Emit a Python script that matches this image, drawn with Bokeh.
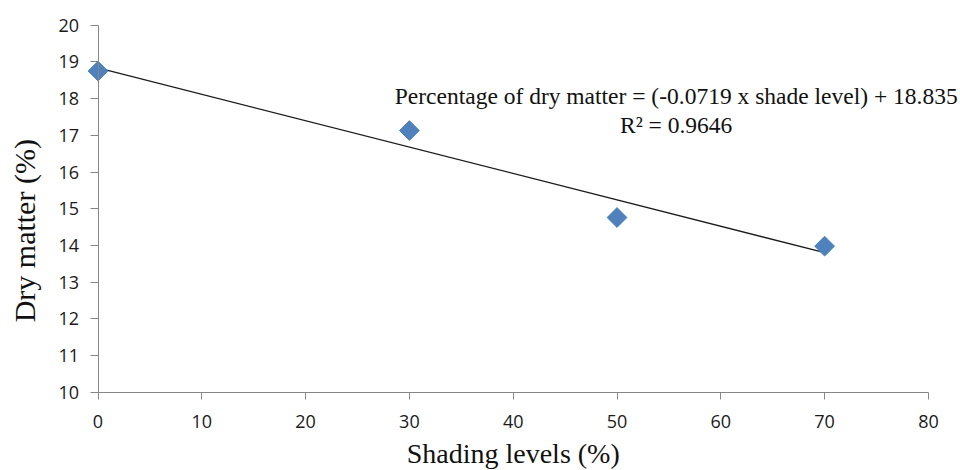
import math
from bokeh.plotting import figure
from bokeh.models import Range1d, Label, FixedTicker
from bokeh.embed import file_html
from bokeh.resources import INLINE

# Shading level (%) and measured dry matter (%)
shading = [0, 30, 50, 70]
dry_matter = [18.75, 17.13, 14.76, 13.98]

# Linear trend reported for the series
slope = -0.0719
intercept = 18.835
r_squared = 0.9646

x_ticks = [0, 10, 20, 30, 40, 50, 60, 70, 80]
y_ticks = [10, 11, 12, 13, 14, 15, 16, 17, 18, 19, 20]

# The frame fills the whole canvas; the axes sit at x=0 / y=10 inside it,
# so markers, titles and the equation are never cut by the frame edge.
p = figure(width=960, height=470, output_backend="svg", toolbar_location=None,
           x_range=Range1d(-9.393, 83.09), y_range=Range1d(7.867, 20.673),
           min_border=0)
p.outline_line_color = None
p.background_fill_color = "white"
p.border_fill_color = "white"
p.grid.visible = False

axis_gray = "#868686"
for ax in (p.xaxis[0], p.yaxis[0]):
    ax.axis_line_color = axis_gray
    ax.major_tick_line_color = axis_gray
    ax.minor_tick_line_color = None
    ax.major_tick_in = 0
    ax.major_label_text_font = "Open Sans"
    ax.major_label_text_font_size = "18px"
    ax.major_label_text_color = "#1a1a1a"

p.xaxis.ticker = FixedTicker(ticks=x_ticks)
p.yaxis.ticker = FixedTicker(ticks=y_ticks)
p.xaxis.bounds = (0, 80)
p.yaxis.bounds = (10, 20)
p.xaxis.fixed_location = 10
p.yaxis.fixed_location = 0
p.xaxis.major_tick_out = 7
p.yaxis.major_tick_out = 8
p.xaxis.major_label_standoff = 16
p.yaxis.major_label_standoff = 11

# Fitted line across the measured range
x_fit = [min(shading), max(shading)]
y_fit = [slope * x + intercept for x in x_fit]
p.line(x_fit, y_fit, line_color="#1a1a1a", line_width=1.3)

# Measured points as diamonds
p.scatter(shading, dry_matter, marker="square", angle=math.pi / 4, size=14,
          fill_color="#4F81BD", line_color="#4F81BD")

# Equation and R² of the fit
eq_text = f"Percentage of dry matter = ({slope} x shade level) + {intercept}"
r2_text = f"R\u00b2 = {r_squared}"
for txt, yy in ((eq_text, 18.06), (r2_text, 17.29)):
    p.add_layout(Label(x=55.7, y=yy, text=txt, text_align="center",
                       text_baseline="middle", text_font="Liberation Serif",
                       text_font_size="23.5px", text_color="#111111"))

# Axis titles
p.add_layout(Label(x=40, y=7.92, text="Shading levels (%)", text_align="center",
                   text_baseline="bottom", text_font="Liberation Serif",
                   text_font_size="28px", text_color="#111111"))
p.add_layout(Label(x=-7.1, y=14.4, text="Dry matter (%)", angle=math.pi / 2,
                   text_align="center", text_baseline="middle",
                   text_font="Liberation Serif", text_font_size="30px",
                   text_color="#111111"))

open("out.html", "w").write(file_html(p, INLINE))
